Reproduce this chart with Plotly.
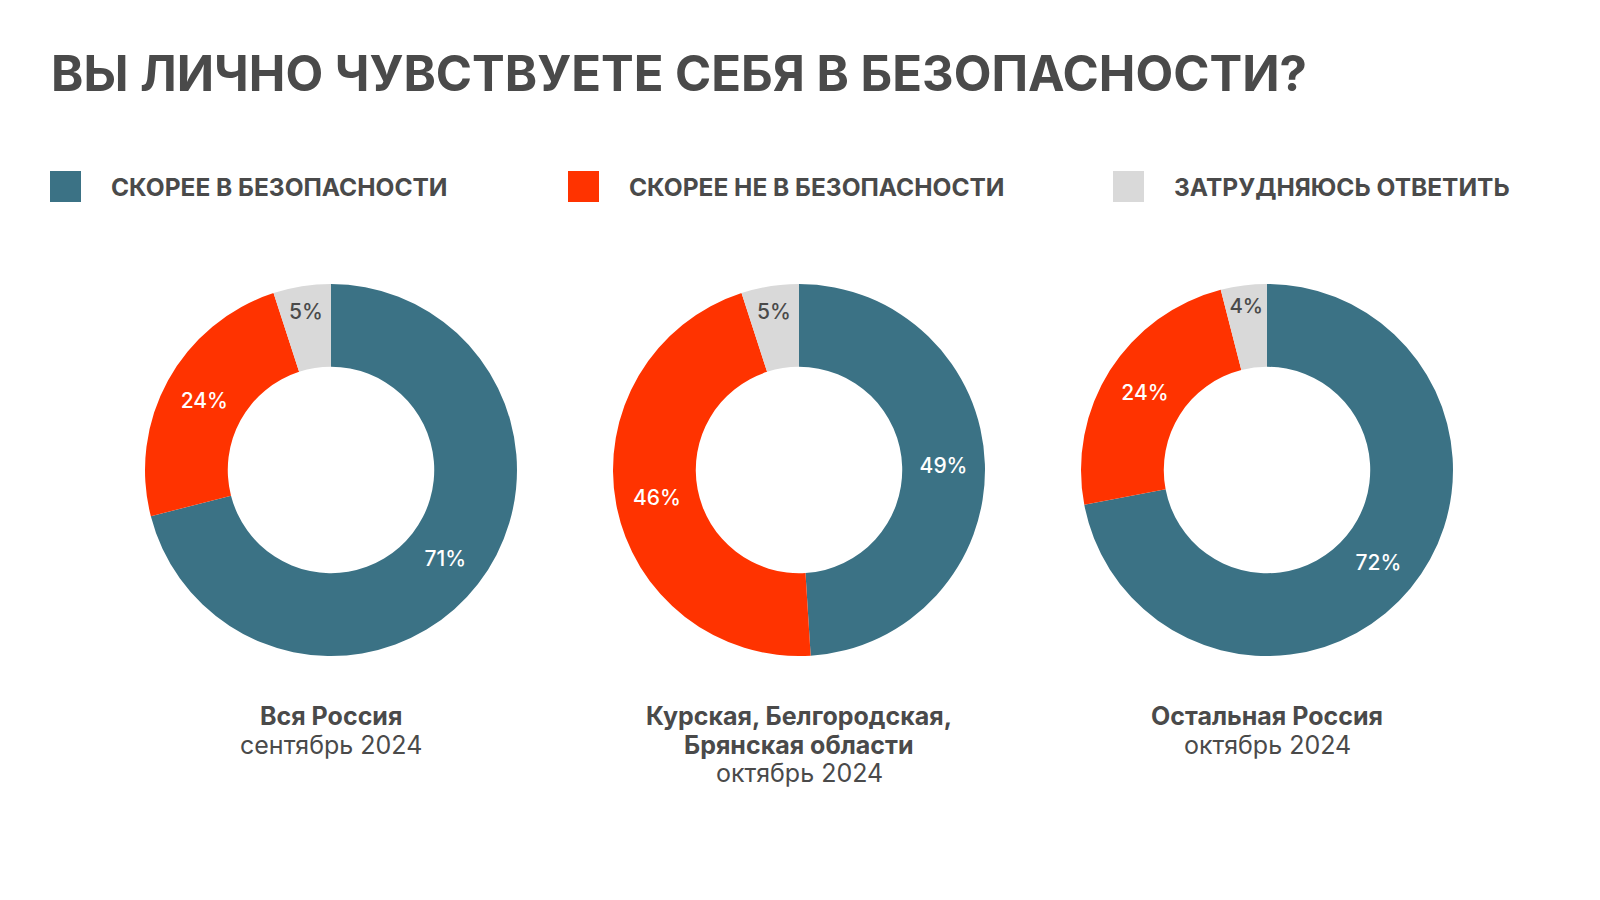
import plotly.graph_objects as go

# данные
question = "ВЫ ЛИЧНО ЧУВСТВУЕТЕ СЕБЯ В БЕЗОПАСНОСТИ?"
answers = ["СКОРЕЕ В БЕЗОПАСНОСТИ", "СКОРЕЕ НЕ В БЕЗОПАСНОСТИ", "ЗАТРУДНЯЮСЬ ОТВЕТИТЬ"]
regions = [["Вся Россия"], ["Курская, Белгородская,", "Брянская области"], ["Остальная Россия"]]
periods = ["сентябрь 2024", "октябрь 2024", "октябрь 2024"]
safe = [71, 49, 72]
unsafe = [24, 46, 24]
hard_to_say = [5, 5, 4]

colors = ["#3b7285", "#ff3300", "#d9d9d9"]
text_dark = "#4a4a4a"
font_main = "Inter"

W, H = 1600, 900
OFF = 8  # отступ body в браузере
centers_x = [331, 799, 1267]
cy = 470
r = 186


def px(x):
    return (x - OFF) / W


def py(y):
    return 1 - (y - OFF) / H


fig = go.Figure()
for i, cx in enumerate(centers_x):
    fig.add_trace(go.Pie(
        labels=answers,
        values=[safe[i], unsafe[i], hard_to_say[i]],
        sort=False,
        direction="clockwise",
        rotation=0,
        hole=0.555,
        marker=dict(colors=colors, line=dict(width=0)),
        texttemplate="%{value}%",
        textposition="inside",
        insidetextorientation="horizontal",
        insidetextfont=dict(family=font_main, size=21, weight=500,
                            color=["white", "white", text_dark]),
        hoverinfo="label+percent",
        showlegend=False,
        domain=dict(x=[px(cx - r), px(cx + r)],
                    y=[py(cy + r), py(cy - r)]),
    ))
    lines = ["<b>" + t + "</b>" for t in regions[i]] + [periods[i]]
    for k, line in enumerate(lines):
        fig.add_annotation(
            x=px(cx), y=py(716 + 28.5 * k), xref="paper", yref="paper",
            xanchor="center", yanchor="middle", showarrow=False,
            text=line,
            font=dict(family=font_main, size=25, color=text_dark),
        )

# легенда
legend_x = [50, 568, 1113]
for i, lx in enumerate(legend_x):
    fig.add_shape(type="rect", xref="paper", yref="paper",
                  x0=px(lx), x1=px(lx + 31),
                  y0=py(202), y1=py(171),
                  fillcolor=colors[i], line=dict(width=0))
    fig.add_annotation(
        x=px(lx + 59), y=py(187), xref="paper", yref="paper",
        xanchor="left", yanchor="middle", showarrow=False,
        text="<b>" + answers[i] + "</b>",
        font=dict(family=font_main, size=24.5, color=text_dark),
    )

fig.update_layout(
    width=W, height=H,
    margin=dict(l=0, r=0, t=0, b=0),
    paper_bgcolor="white",
    plot_bgcolor="white",
    title=dict(text="<b>" + question + "</b>", x=px(51), xanchor="left",
               y=py(74), yanchor="middle",
               font=dict(family=font_main, size=49, color=text_dark, weight=900)),
)

fig.write_html("out.html")
